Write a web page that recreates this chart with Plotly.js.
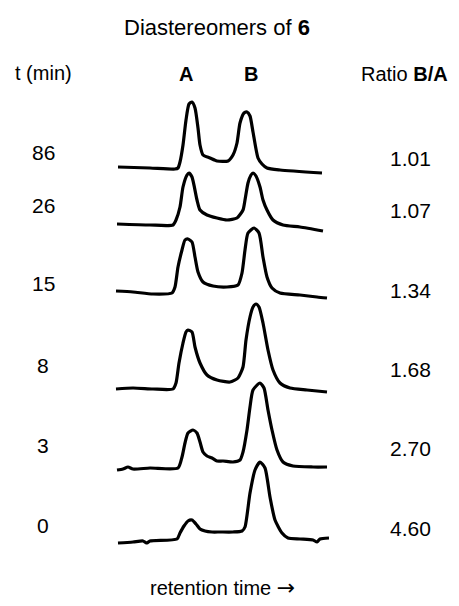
<!DOCTYPE html>
<html><head><meta charset="utf-8">
<script src="https://cdn.plot.ly/plotly-3.0.1.min.js"></script>
<style>html,body{margin:0;padding:0;background:#fff;}#chart{width:459px;height:606px;}</style>
</head><body><div id="chart"></div>
<script>
// Sampling times (min) and B/A ratios
var times = ['86', '26', '15', '8', '3', '0'];
var ratios = [1.01, 1.07, 1.34, 1.68, 2.70, 4.60];

// Chromatogram traces: retention position and detector trace (stacked)
var rt86 = [118,150,175,178,180,183,186,189,192,195,198,200,203,210,217,228,233,237,240,244,247,250,253,258,262,267,280,322];
var sig86 = [167,168,169,168,162,145,120,104,102,108,128,145,155,158,161,161,155,143,123,113,112,116,132,158,164,168,170,173];

var rt26 = [117,150,173,176,180,183,187,189,192,197,200,207,217,227,237,243,245,248,251,253,256,260,263,267,273,283,300,323];
var sig26 = [224,225,225,220,207,187,175,173,177,200,210,215,218,220,218,210,200,183,175,173,176,187,200,210,220,225,227,231];

var rt15 = [116,133,153,172,175,178,182,185,188,192,195,198,203,213,227,238,242,245,248,254,259,263,267,272,280,300,317,327];
var sig15 = [291,292,294,293,287,267,250,240,239,242,257,272,282,286,287,285,273,250,233,228,233,257,277,288,293,295,297,298];

var rt8 = [116,133,153,173,176,179,183,186,188,192,195,200,207,217,230,238,243,246,250,253,256,259,263,268,273,280,290,307,327];
var sig8 = [389,388,389,389,383,363,343,332,330,332,347,363,375,380,382,378,367,340,317,307,304,307,323,350,370,383,388,390,392];

var rt3 = [117,123,128,133,150,178,182,185,188,193,197,200,203,207,212,217,223,233,240,243,247,250,253,260,264,268,272,277,283,293,313,327];
var sig3 = [470,469,467,469,468,468,457,443,433,430,433,442,452,456,458,461,461,462,460,452,430,407,390,383,388,410,430,450,462,466,467,467];

var rt0 = [118,133,143,147,150,177,180,184,188,192,196,200,205,212,220,233,242,245,250,255,260,265,270,275,282,288,300,313,317,320,329];
var sig0 = [543,542,541,543,541,539,533,526,521,520,524,529,531,532,532,532,531,527,493,470,462,468,497,520,533,538,539,540,542,539,538];

var rts = [rt86, rt26, rt15, rt8, rt3, rt0];
var sigs = [sig86, sig26, sig15, sig8, sig3, sig0];

// layout-only positions for row labels
var leftRowY = [152, 205, 283, 365, 445, 525];
var rightRowY = [158, 210, 290, 369, 448, 528];

var data = rts.map(function(r, i){
  return {x: r, y: sigs[i], type: 'scatter', mode: 'lines',
    line: {color: '#000', width: 3.2, shape: 'spline', smoothing: 0.6},
    hoverinfo: 'skip', showlegend: false};
});

var font = {family: 'Liberation Sans, Arial, Helvetica, sans-serif', color: '#000'};
function f(sz){ return Object.assign({}, font, {size: sz}); }

var ann = [];
function add(text, x, y, sz){
  ann.push({text: text, x: x, y: y, xref: 'x', yref: 'y', showarrow: false,
    xanchor: 'center', yanchor: 'middle', font: f(sz)});
}
add('Diastereomers of <b>6</b>', 217, 27, 22);
add('t (min)', 43, 73, 20);
add('<b>A</b>', 186, 74, 20);
add('<b>B</b>', 251, 74, 20);
add('Ratio <b>B/A</b>', 404, 74, 20);
times.forEach(function(t, i){ add(t, 43, leftRowY[i], 21); });
ratios.forEach(function(r, i){ add(r.toFixed(2), 410, rightRowY[i], 21); });
add('retention time <span style="font-family:\'DejaVu Sans\';font-size:22px">\u2192</span>', 222, 587, 20);

var layout = {
  width: 459, height: 606,
  margin: {l: 0, r: 0, t: 0, b: 0},
  paper_bgcolor: '#fff', plot_bgcolor: '#fff',
  xaxis: {range: [0, 459], visible: false, fixedrange: true},
  yaxis: {range: [606, 0], visible: false, fixedrange: true},
  annotations: ann
};
Plotly.newPlot('chart', data, layout, {staticPlot: true, displayModeBar: false});
</script>
</body></html>
